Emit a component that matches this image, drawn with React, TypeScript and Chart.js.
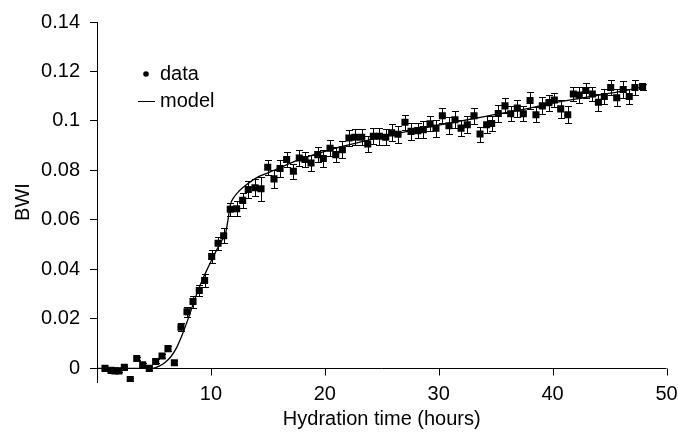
import React, { useEffect, useRef } from "react";
import { Chart, registerables } from "chart.js";

Chart.register(...registerables);

// Measured data (hours, BWI, error half-width)
const dataHours = [
  0.7, 1.23, 1.58, 1.93, 2.4, 2.92, 3.49, 4.01, 4.59, 5.15, 5.71, 6.23, 6.79, 7.37, 7.9, 8.43, 8.98, 9.45,
  10.07, 10.63, 11.12, 11.7, 12.26, 12.79, 13.28, 13.87, 14.4, 14.99, 15.54, 16.07, 16.65, 17.24, 17.76,
  18.26, 18.79, 19.38, 19.87, 20.46, 20.96, 21.54, 22.12, 22.65, 23.24, 23.77, 24.26, 24.79, 25.35, 25.87,
  26.43, 27.04, 27.57, 28.16, 28.65, 29.24, 29.76, 30.32, 30.9, 31.43, 31.96, 32.51, 33.1, 33.63, 34.21,
  34.65, 35.23, 35.82, 36.32, 36.9, 37.43, 38.02, 38.54, 39.1, 39.68, 40.15, 40.71, 41.33, 41.82, 42.34,
  42.91, 43.49, 44.02, 44.54, 45.1, 45.63, 46.2, 46.73, 47.23, 47.9,
];
const dataBWI = [
  0.0, -0.0008, -0.001, -0.001, 0.0004, -0.0045, 0.004, 0.0015, 0.0, 0.0028, 0.005, 0.008, 0.0023, 0.0166,
  0.0229, 0.027, 0.0315, 0.0355, 0.0452, 0.0506, 0.0536, 0.0643, 0.0645, 0.0679, 0.0723, 0.073, 0.0726,
  0.0813, 0.0766, 0.0808, 0.0844, 0.0797, 0.085, 0.0844, 0.083, 0.0864, 0.0848, 0.089, 0.0864, 0.0884,
  0.0931, 0.0934, 0.0934, 0.0907, 0.0938, 0.0938, 0.0934, 0.0952, 0.0946, 0.0995, 0.0958, 0.0961, 0.0965,
  0.0989, 0.0971, 0.1021, 0.0981, 0.1005, 0.0971, 0.0985, 0.1021, 0.0947, 0.0985, 0.099, 0.103, 0.1061,
  0.1029, 0.1052, 0.1029, 0.1083, 0.1025, 0.1061, 0.1074, 0.1085, 0.1049, 0.1025, 0.1109, 0.1105, 0.1123,
  0.1109, 0.1076, 0.1099, 0.1135, 0.1094, 0.1127, 0.1099, 0.1135, 0.1139,
];
const dataErr = [
  0.0006, 0.0006, 0.0006, 0.0006, 0.0006, 0.0006, 0.0008, 0.0008, 0.0008, 0.0008, 0.001, 0.001, 0.001,
  0.0016, 0.002, 0.0024, 0.0024, 0.0026, 0.0026, 0.0026, 0.003, 0.0026, 0.003, 0.003, 0.0034, 0.0034,
  0.0048, 0.003, 0.0036, 0.0034, 0.003, 0.003, 0.0034, 0.003, 0.0034, 0.003, 0.0034, 0.0032, 0.003,
  0.0034, 0.0032, 0.0032, 0.0032, 0.0034, 0.0032, 0.0034, 0.0032, 0.0034, 0.0034, 0.003, 0.0034, 0.003,
  0.0034, 0.003, 0.0034, 0.003, 0.0034, 0.0034, 0.0032, 0.0034, 0.0032, 0.003, 0.0034, 0.003, 0.0034,
  0.003, 0.003, 0.0034, 0.003, 0.0034, 0.003, 0.0034, 0.0032, 0.003, 0.0036, 0.0034, 0.003, 0.0034,
  0.0032, 0.003, 0.0034, 0.0032, 0.003, 0.0034, 0.0034, 0.003, 0.0032, 0.0012,
];

// Model curve
const modelHours = [
  0, 4.5, 5, 5.5, 6, 6.5, 7, 7.5, 8, 8.5, 9, 9.5, 10, 10.5, 11, 11.3, 11.5, 11.7, 12, 12.5, 13, 14, 15, 16,
  17, 18, 20, 22, 24, 26, 28, 30, 32, 34, 36, 38, 40, 42, 44, 46, 48,
];
const modelBWI = [
  0, 0, 0.0001, 0.001, 0.0025, 0.0048, 0.0085, 0.0138, 0.02, 0.0268, 0.033, 0.0383, 0.0432, 0.0478, 0.052,
  0.0548, 0.06, 0.066, 0.069, 0.0718, 0.0738, 0.077, 0.079, 0.081, 0.083, 0.0848, 0.0877, 0.0902, 0.0925,
  0.0946, 0.0965, 0.0983, 0.1, 0.1018, 0.1035, 0.1052, 0.1072, 0.1088, 0.1104, 0.112, 0.1138,
];

const xTickValues = [10, 20, 30, 40, 50];
const yTickValues = [0, 0.02, 0.04, 0.06, 0.08, 0.1, 0.12, 0.14];
const xTitle = "Hydration time (hours)";
const yTitle = "BWI";
const legendLabels = ["data", "model"];

const FONT = "'Liberation Sans', Arial, sans-serif";

const errorBarPlugin = {
  id: "errorBars",
  beforeDatasetsDraw(chart: any) {
    const { ctx } = chart;
    const xs = chart.scales.x;
    const ys = chart.scales.y;
    ctx.save();
    ctx.strokeStyle = "#000";
    ctx.lineWidth = 1;
    for (let i = 0; i < dataHours.length; i++) {
      const px = Math.round(xs.getPixelForValue(dataHours[i])) + 0.5;
      const top = Math.round(ys.getPixelForValue(dataBWI[i] + dataErr[i])) + 0.5;
      const bot = Math.round(ys.getPixelForValue(dataBWI[i] - dataErr[i])) + 0.5;
      ctx.beginPath();
      ctx.moveTo(px, top);
      ctx.lineTo(px, bot);
      ctx.moveTo(px - 3.5, top);
      ctx.lineTo(px + 3.5, top);
      ctx.moveTo(px - 3.5, bot);
      ctx.lineTo(px + 3.5, bot);
      ctx.stroke();
    }
    ctx.restore();
  },
};

const zeroAxisPlugin = {
  id: "zeroAxis",
  beforeDatasetsDraw(chart: any) {
    const { ctx, chartArea } = chart;
    const xs = chart.scales.x;
    const ys = chart.scales.y;
    const y0 = Math.round(ys.getPixelForValue(0)) + 0.5;
    ctx.save();
    ctx.strokeStyle = "#000";
    ctx.lineWidth = 1;
    ctx.beginPath();
    ctx.moveTo(chartArea.left, y0);
    ctx.lineTo(chartArea.right, y0);
    for (const v of xTickValues) {
      const px = Math.round(xs.getPixelForValue(v)) + 0.5;
      ctx.moveTo(px, y0);
      ctx.lineTo(px, y0 + 7);
    }
    ctx.stroke();
    ctx.restore();
  },
};

const legendPlugin = {
  id: "customLegend",
  afterDraw(chart: any) {
    const { ctx, chartArea } = chart;
    const x0 = chartArea.left;
    const y0 = chartArea.top;
    ctx.save();
    ctx.fillStyle = "#000";
    ctx.strokeStyle = "#000";
    ctx.font = `20px ${FONT}`;
    ctx.textBaseline = "middle";
    ctx.textAlign = "left";
    // data
    ctx.beginPath();
    ctx.arc(x0 + 49, y0 + 52, 2.8, 0, Math.PI * 2);
    ctx.fill();
    ctx.fillText(legendLabels[0], x0 + 63, y0 + 52);
    // model
    ctx.lineWidth = 1;
    ctx.beginPath();
    ctx.moveTo(x0 + 41, y0 + 79.5);
    ctx.lineTo(x0 + 58, y0 + 79.5);
    ctx.stroke();
    ctx.fillText(legendLabels[1], x0 + 63, y0 + 79);
    ctx.restore();
  },
};

export default function App() {
  const ref = useRef<HTMLCanvasElement | null>(null);

  useEffect(() => {
    document.body.style.margin = "0";
    const canvas = ref.current;
    if (!canvas) return;
    Chart.defaults.font.family = FONT;
    Chart.defaults.font.size = 20;
    Chart.defaults.color = "#000";

    const chart = new Chart(canvas, {
      type: "scatter",
      data: {
        datasets: [
          {
            label: legendLabels[1],
            type: "line",
            data: modelHours.map((h, i) => ({ x: h, y: modelBWI[i] })),
            borderColor: "#000",
            borderWidth: 1.3,
            pointRadius: 0,
            fill: false,
            cubicInterpolationMode: "monotone",
            order: 1,
          } as any,
          {
            label: legendLabels[0],
            data: dataHours.map((h, i) => ({ x: h, y: dataBWI[i] })),
            backgroundColor: "#000",
            borderColor: "#000",
            pointStyle: "rect",
            pointRadius: 5,
            borderWidth: 0,
            order: 2,
          } as any,
        ],
      },
      options: {
        responsive: false,
        animation: false,
        layout: { padding: { left: 0, right: 11.5, top: 20, bottom: 0 } },
        plugins: {
          legend: { display: false },
          tooltip: { enabled: false },
        },
        scales: {
          x: {
            type: "linear",
            min: 0,
            max: 50,
            afterBuildTicks: (scale: any) => {
              scale.ticks = xTickValues.map((v) => ({ value: v }));
            },
            afterFit: (scale: any) => {
              scale.height = 50;
            },
            grid: { display: false, drawTicks: false },
            border: { display: false },
            ticks: { padding: 0, maxRotation: 0, autoSkip: false, font: { size: 20 } },
            title: {
              display: true,
              text: xTitle,
              font: { size: 20 },
              padding: { top: 0, bottom: 1 },
            },
          },
          y: {
            type: "linear",
            min: -0.0055,
            max: 0.14,
            afterBuildTicks: (scale: any) => {
              scale.ticks = yTickValues.map((v) => ({ value: v }));
            },
            afterFit: (scale: any) => {
              scale.width = 97;
            },
            grid: {
              display: true,
              drawOnChartArea: false,
              drawTicks: true,
              tickLength: 7,
              color: "#000",
            },
            border: { display: true, color: "#000", width: 1 },
            ticks: {
              padding: 10,
              autoSkip: false,
              font: { size: 20 },
              callback: (v: any) => String(Number(Number(v).toFixed(2))),
            },
            title: {
              display: true,
              text: yTitle,
              font: { size: 20 },
              padding: { top: 11, bottom: 0 },
            },
          },
        },
      },
      plugins: [zeroAxisPlugin, errorBarPlugin, legendPlugin],
    });
    return () => chart.destroy();
  }, []);

  return (
    <div style={{ width: 678, height: 432, background: "#fff" }}>
      <canvas ref={ref} width={678} height={432} style={{ display: "block" }} />
    </div>
  );
}
